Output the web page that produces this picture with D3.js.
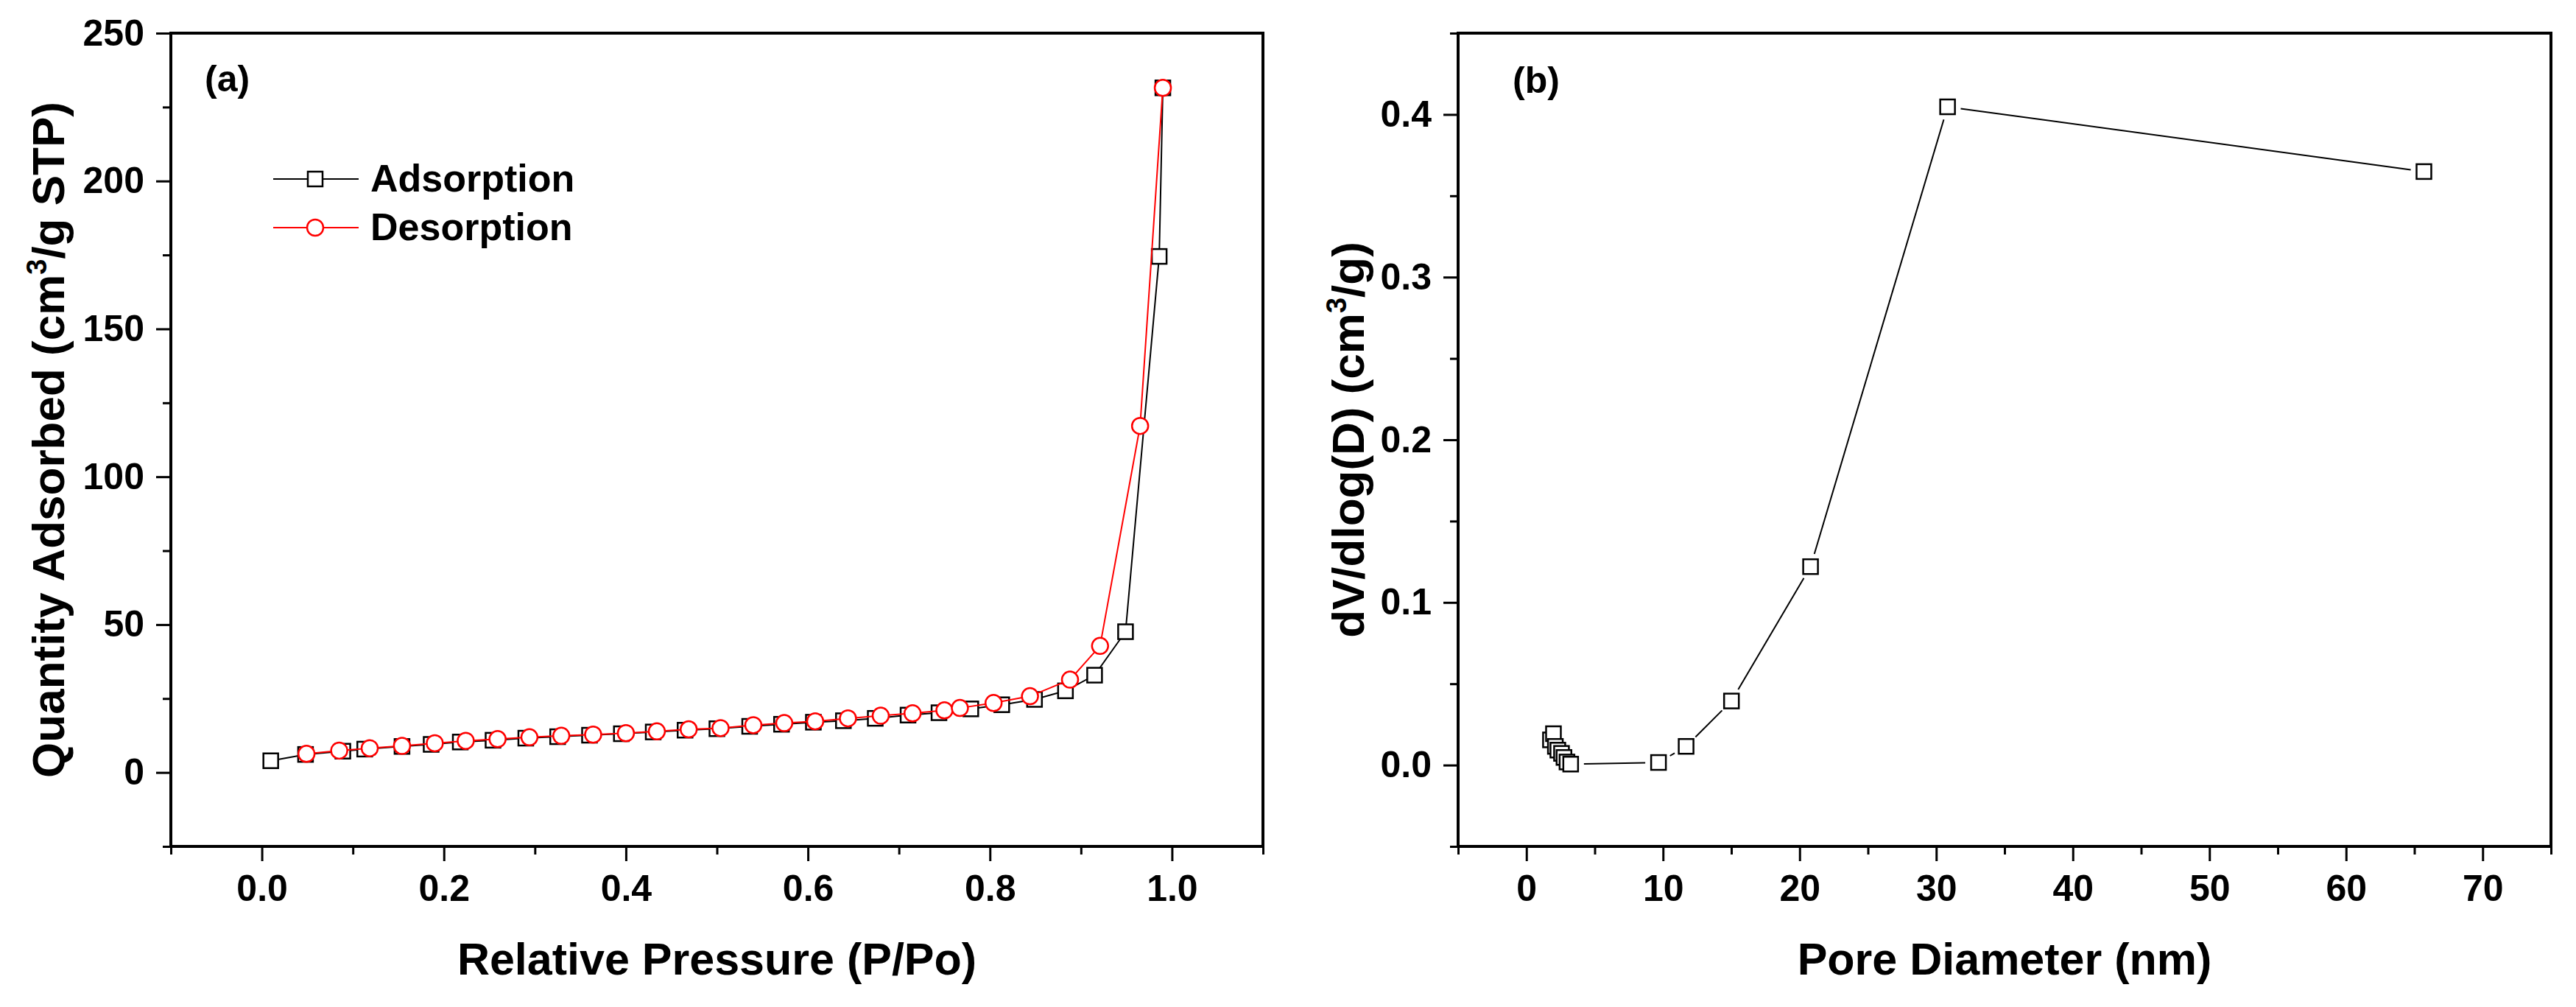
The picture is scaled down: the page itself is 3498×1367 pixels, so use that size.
<!DOCTYPE html>
<html>
<head>
<meta charset="utf-8">
<script src="https://cdn.jsdelivr.net/npm/d3@7"></script>
<style>
html, body { margin: 0; padding: 0; background: #fff; }
svg text { font-family: "Liberation Sans", Arial, sans-serif; font-weight: bold; }
</style>
</head>
<body>
<svg id="chart" width="3498" height="1367"></svg>
<script>
// --- Data: (a) N2 isotherm ---
const adsP = [0.0098, 0.048, 0.089, 0.113, 0.154, 0.186, 0.218, 0.254, 0.290, 0.325, 0.360, 0.395,
  0.430, 0.465, 0.500, 0.536, 0.571, 0.606, 0.639, 0.674, 0.710, 0.744, 0.779, 0.813, 0.849,
  0.883, 0.915, 0.949, 0.986, 0.990];
const adsV = [3.96, 6.1, 7.2, 7.9, 8.8, 9.5, 10.3, 10.9, 11.6, 12.1, 12.6, 13.1,
  13.7, 14.3, 14.8, 15.6, 16.3, 17.0, 17.5, 18.3, 19.4, 20.2, 21.5, 22.9, 24.7,
  27.6, 32.9, 47.6, 174.5, 231.5];
const desP = [0.049, 0.085, 0.1185, 0.154, 0.190, 0.224, 0.259, 0.294, 0.329, 0.364, 0.400, 0.434,
  0.469, 0.504, 0.540, 0.574, 0.608, 0.644, 0.680, 0.715, 0.750, 0.767, 0.804, 0.844, 0.888,
  0.921, 0.965, 0.990];
const desV = [6.3, 7.4, 8.2, 9.0, 9.9, 10.7, 11.3, 11.9, 12.4, 12.8, 13.3, 13.9,
  14.6, 15.0, 16.0, 16.7, 17.3, 18.3, 19.2, 20.0, 21.0, 21.8, 23.5, 25.8, 31.4,
  42.8, 117.2, 231.5];

// --- Data: (b) pore size distribution ---
const poreD = [1.76, 1.98, 2.12, 2.30, 2.57, 2.75, 2.97, 3.24, 9.67, 11.69, 15.01, 20.8, 30.83, 65.7];
const poreDV = [0.0155, 0.0193, 0.0115, 0.0092, 0.0072, 0.0047, 0.0019, 0.0006, 0.0016, 0.0115,
  0.0394, 0.122, 0.4047, 0.3649];

// --- Ticks ---
const xMajorA = [0, 0.2, 0.4, 0.6, 0.8, 1.0];
const xMinorA = [-0.1, 0.1, 0.3, 0.5, 0.7, 0.9, 1.1];
const yMajorA = [0, 50, 100, 150, 200, 250];
const yMinorA = [-25, 25, 75, 125, 175, 225];
const xMajorB = [0, 10, 20, 30, 40, 50, 60, 70];
const xMinorB = [-5, 5, 15, 25, 35, 45, 55, 65, 75];
const yMajorB = [0, 0.1, 0.2, 0.3, 0.4];
const yMinorB = [-0.05, 0.05, 0.15, 0.25, 0.35, 0.45];

const svg = d3.select("#chart");
svg.append("rect").attr("width", 3498).attr("height", 1367).attr("fill", "#fff");

const plotTop = 45, plotBottom = 1149;

function drawAxes(g, x, y, o) {
  const x0 = x.range()[0], x1 = x.range()[1];
  const styleAxis = (sel) => {
    sel.select(".domain").remove();
    sel.selectAll("line").attr("stroke", "#000").attr("stroke-width", 3);
    sel.selectAll("text").attr("fill", "#000").attr("font-size", 50)
      .attr("font-family", "'Liberation Sans', Arial, sans-serif").attr("font-weight", "bold");
  };
  g.append("g").attr("transform", `translate(0,${plotBottom})`)
    .call(d3.axisBottom(x).tickValues(o.xMinor).tickSize(11).tickFormat(""))
    .call(styleAxis);
  g.append("g").attr("transform", `translate(0,${plotBottom})`)
    .call(d3.axisBottom(x).tickValues(o.xMajor).tickSize(20).tickPadding(18).tickFormat(o.xFmt))
    .call(styleAxis);
  g.append("g").attr("transform", `translate(${x0},0)`)
    .call(d3.axisLeft(y).tickValues(o.yMinor).tickSize(11).tickFormat(""))
    .call(styleAxis);
  g.append("g").attr("transform", `translate(${x0},0)`)
    .call(d3.axisLeft(y).tickValues(o.yMajor).tickSize(20).tickPadding(16).tickFormat(o.yFmt))
    .call(styleAxis);
  // frame
  g.append("rect")
    .attr("x", x0).attr("y", plotTop).attr("width", x1 - x0).attr("height", plotBottom - plotTop)
    .attr("fill", "none").attr("stroke", "#000").attr("stroke-width", 4);
}

function yTitle(g, xPos, main, tail) {
  const t = g.append("text")
    .attr("transform", `translate(${xPos},${(plotTop + plotBottom) / 2}) rotate(-90)`)
    .attr("text-anchor", "middle").attr("font-size", 62).attr("fill", "#000");
  t.append("tspan").text(main);
  t.append("tspan").attr("font-size", 38).attr("dy", -24).text("3");
  t.append("tspan").attr("dy", 24).text(tail);
}

// --- Panel (a) ---
const xA = d3.scaleLinear().domain([-0.1, 1.1]).range([232, 1715]);
const yA = d3.scaleLinear().domain([-25, 250]).range([plotBottom, plotTop]);
const gA = svg.append("g");
drawAxes(gA, xA, yA, {
  xMajor: xMajorA, xMinor: xMinorA, yMajor: yMajorA, yMinor: yMinorA,
  xFmt: d3.format(".1f"), yFmt: d3.format("d")
});

const lineA = d3.line().x((d) => xA(d[0])).y((d) => yA(d[1]));
const ads = adsP.map((p, i) => [p, adsV[i]]);
const des = desP.map((p, i) => [p, desV[i]]);

gA.append("path").datum(ads).attr("d", lineA)
  .attr("fill", "none").attr("stroke", "#000").attr("stroke-width", 2);
gA.append("g").selectAll("rect").data(ads).join("rect")
  .attr("x", (d) => xA(d[0]) - 10).attr("y", (d) => yA(d[1]) - 10)
  .attr("width", 20).attr("height", 20)
  .attr("fill", "#fff").attr("stroke", "#000").attr("stroke-width", 2.5);

gA.append("path").datum(des).attr("d", lineA)
  .attr("fill", "none").attr("stroke", "#ff0000").attr("stroke-width", 2);
gA.append("g").selectAll("circle").data(des).join("circle")
  .attr("cx", (d) => xA(d[0])).attr("cy", (d) => yA(d[1])).attr("r", 11)
  .attr("fill", "#fff").attr("stroke", "#ff0000").attr("stroke-width", 2.5);

gA.append("text").attr("x", 278).attr("y", 124).attr("font-size", 50).text("(a)");

// legend
const legend = [
  { name: "Adsorption", color: "#000", shape: "square", y: 243 },
  { name: "Desorption", color: "#ff0000", shape: "circle", y: 309 }
];
legend.forEach((l) => {
  gA.append("line").attr("x1", 371).attr("x2", 487).attr("y1", l.y).attr("y2", l.y)
    .attr("stroke", l.color).attr("stroke-width", 2);
  if (l.shape === "square") {
    gA.append("rect").attr("x", 418).attr("y", l.y - 10).attr("width", 20).attr("height", 20)
      .attr("fill", "#fff").attr("stroke", l.color).attr("stroke-width", 2.5);
  } else {
    gA.append("circle").attr("cx", 428).attr("cy", l.y).attr("r", 11)
      .attr("fill", "#fff").attr("stroke", l.color).attr("stroke-width", 2.5);
  }
  gA.append("text").attr("x", 503).attr("y", l.y + 17).attr("font-size", 52).text(l.name);
});

gA.append("text").attr("x", xA(0.5)).attr("y", 1323).attr("text-anchor", "middle")
  .attr("font-size", 61).text("Relative Pressure (P/Po)");
yTitle(gA, 87, "Quantity Adsorbed (cm", "/g STP)");

// --- Panel (b) ---
const xB = d3.scaleLinear().domain([-5, 75]).range([1980, 3464]);
const yB = d3.scaleLinear().domain([-0.05, 0.45]).range([plotBottom, plotTop]);
const gB = svg.append("g");
drawAxes(gB, xB, yB, {
  xMajor: xMajorB, xMinor: xMinorB, yMajor: yMajorB, yMinor: yMinorB,
  xFmt: d3.format("d"), yFmt: d3.format(".1f")
});

// segments stop short of the symbols
const pts = poreD.map((d, i) => [xB(d), yB(poreDV[i])]);
const gap = 18;
for (let i = 0; i < pts.length - 1; i++) {
  const a = pts[i], b = pts[i + 1];
  const dx = b[0] - a[0], dy = b[1] - a[1];
  const len = Math.hypot(dx, dy);
  if (len <= 2 * gap) continue;
  const ux = dx / len, uy = dy / len;
  gB.append("line")
    .attr("x1", a[0] + ux * gap).attr("y1", a[1] + uy * gap)
    .attr("x2", b[0] - ux * gap).attr("y2", b[1] - uy * gap)
    .attr("stroke", "#000").attr("stroke-width", 2);
}
gB.append("g").selectAll("rect").data(pts).join("rect")
  .attr("x", (d) => d[0] - 10).attr("y", (d) => d[1] - 10)
  .attr("width", 20).attr("height", 20)
  .attr("fill", "#fff").attr("stroke", "#000").attr("stroke-width", 2.5);

gB.append("text").attr("x", 2054).attr("y", 126).attr("font-size", 50).text("(b)");

gB.append("text").attr("x", xB(35)).attr("y", 1323).attr("text-anchor", "middle")
  .attr("font-size", 61).text("Pore Diameter (nm)");
yTitle(gB, 1852, "dV/dlog(D) (cm", "/g)");
</script>
</body>
</html>
